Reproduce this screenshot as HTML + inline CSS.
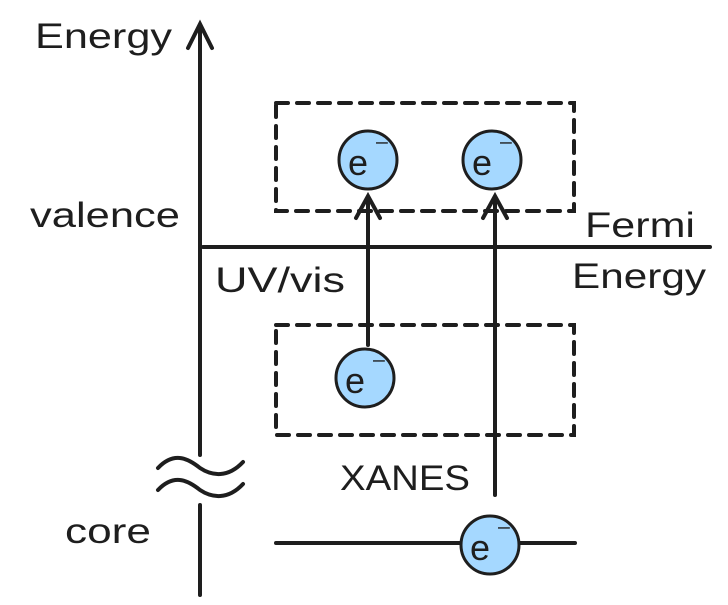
<!DOCTYPE html>
<html><head><style>
body{margin:0;background:#fff;}
svg text{font-family:"Liberation Sans",sans-serif;fill:#1e1e1e;}
</style></head><body>
<svg width="728" height="600" viewBox="0 0 728 600" xmlns="http://www.w3.org/2000/svg">
<g stroke="#1e1e1e" stroke-width="4" fill="none" stroke-linecap="round">
<line x1="200" y1="28" x2="200" y2="455"/>
<polyline points="188,48 200,24 212,48"/>
<path d="M158,468 C175,450 190,460 200,468 C212,476 228,478 243,462"/>
<path d="M158,490 C175,472 190,482 200,490 C212,498 228,500 243,484"/>
<line x1="200" y1="505" x2="200" y2="595"/>
<line x1="203" y1="247" x2="710" y2="247"/>
<rect x="276" y="103" width="298" height="108" stroke-dasharray="12 9"/>
<rect x="276" y="325" width="298" height="110" stroke-dasharray="12 9"/>
<line x1="368" y1="345" x2="368" y2="198"/>
<polyline points="356,218 368,196 380,218"/>
<line x1="495" y1="495" x2="495" y2="198"/>
<polyline points="483,218 495,196 507,218"/>
<line x1="276" y1="543" x2="575" y2="543"/>
</g>
<g fill="#a5d8ff" stroke="#1e1e1e" stroke-width="3">
<circle cx="368" cy="160" r="29"/>
<circle cx="492" cy="160" r="29"/>
<circle cx="365" cy="378" r="29"/>
<circle cx="490" cy="545" r="29"/>
</g>
<g font-size="36">
<text x="348" y="175">e</text><text x="374" y="158" font-size="30">⁻</text>
<text x="472" y="175">e</text><text x="498" y="158" font-size="30">⁻</text>
<text x="345" y="393">e</text><text x="371" y="376" font-size="30">⁻</text>
<text x="470" y="560">e</text><text x="496" y="543" font-size="30">⁻</text>
</g>
<g font-size="35">
<text x="35" y="48" textLength="137" lengthAdjust="spacingAndGlyphs">Energy</text>
<text x="30" y="227" textLength="150" lengthAdjust="spacingAndGlyphs">valence</text>
<text x="585" y="237" textLength="110" lengthAdjust="spacingAndGlyphs">Fermi</text>
<text x="572" y="288" textLength="134" lengthAdjust="spacingAndGlyphs">Energy</text>
<text x="215" y="292" textLength="130" lengthAdjust="spacingAndGlyphs">UV/vis</text>
<text x="340" y="490" textLength="130" lengthAdjust="spacingAndGlyphs">XANES</text>
<text x="65" y="543" textLength="86" lengthAdjust="spacingAndGlyphs">core</text>
</g>
</svg>
</body></html>
